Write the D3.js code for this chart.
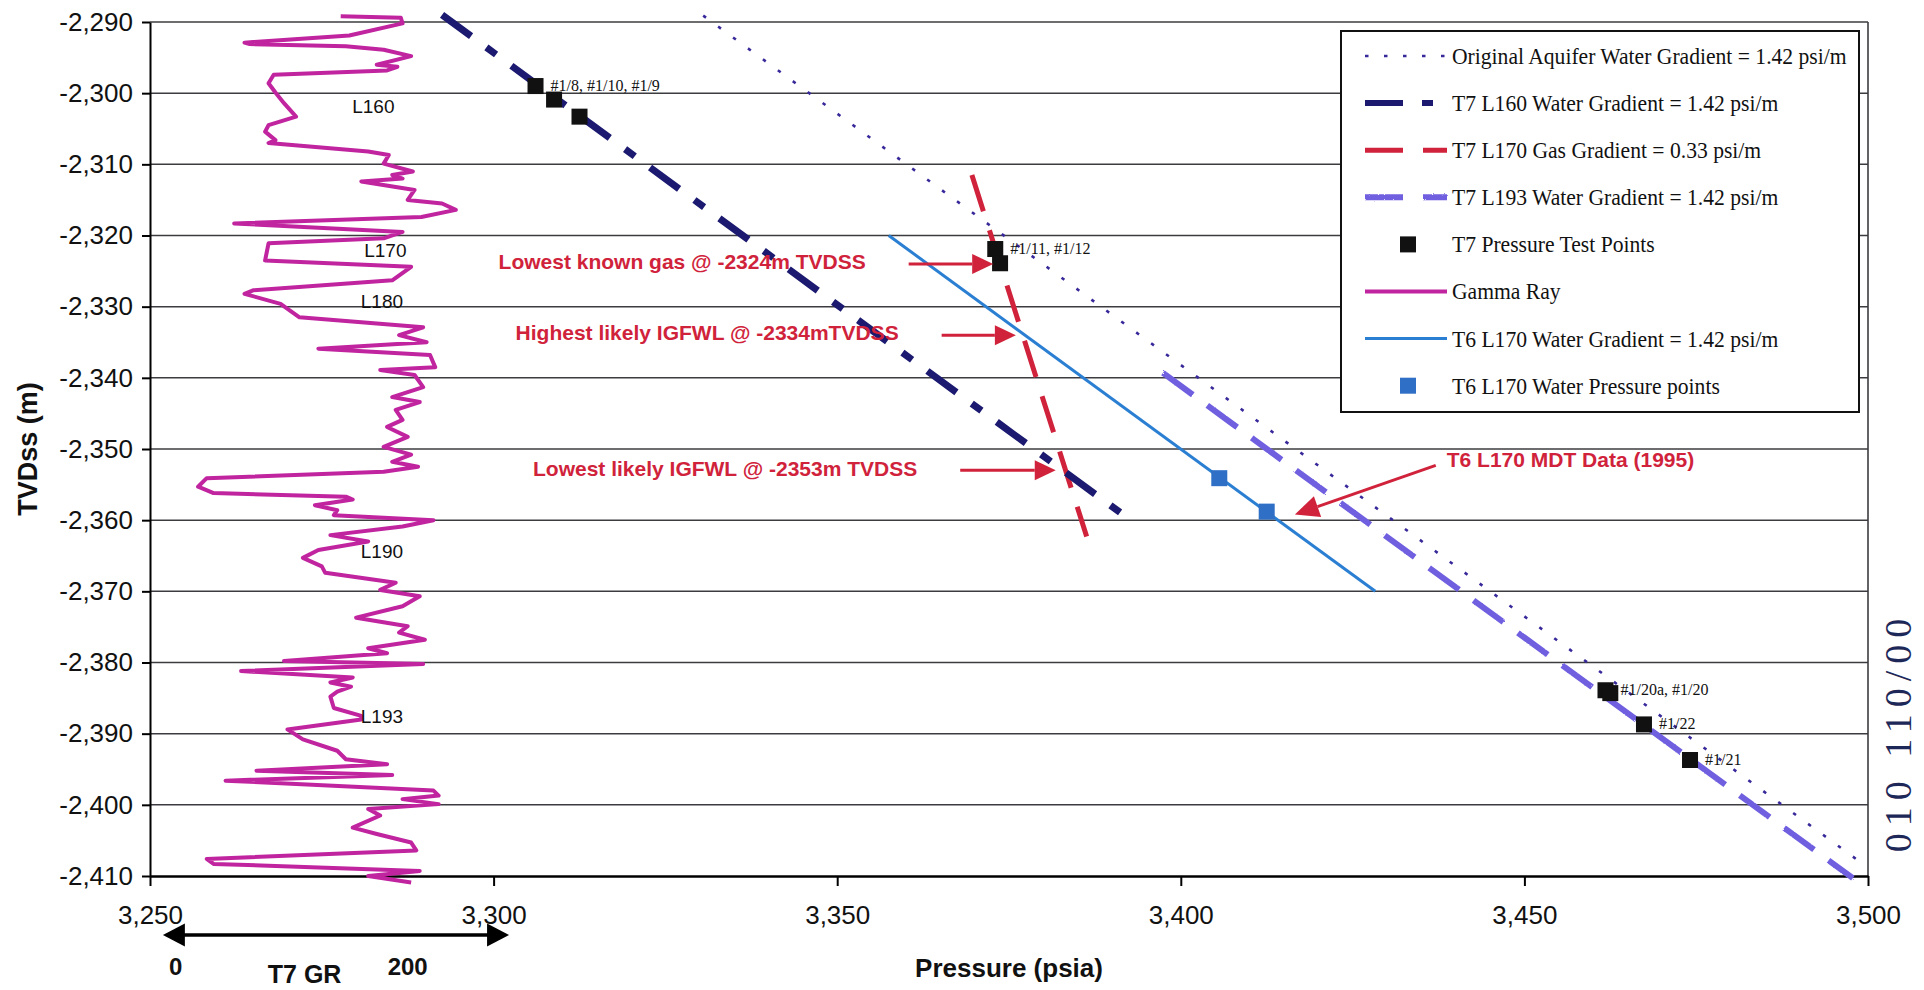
<!DOCTYPE html>
<html>
<head>
<meta charset="utf-8">
<script src="https://cdn.jsdelivr.net/npm/d3@7"></script>
<style>
  body { margin: 0; background: #fff; overflow: hidden; }
  svg { display: block; }
</style>
</head>
<body>
<svg id="chart" width="1924" height="990"></svg>
<script>
// ---- axis ticks ----
const depthTicks = [-2290, -2300, -2310, -2320, -2330, -2340, -2350, -2360, -2370, -2380, -2390, -2400, -2410];
const pressureTicks = [3250, 3300, 3350, 3400, 3450, 3500];

// ---- gradient lines: [pressure (psia), depth (m)] end points ----
const aquiferGradient = [[3330.5, -2289.1], [3499.1, -2408.2]];
const l160Gradient    = [[3292.5, -2289.0], [3392.0, -2359.5]];
const l170GasGradient = [[3369.6, -2311.5], [3386.3, -2362.3]];
const l193Gradient    = [[3397.4, -2339.3], [3497.8, -2410.3]];
const t6Gradient      = [[3357.5, -2320.0], [3428.3, -2370.0]];

// ---- T7 pressure test points ----
const t7Pressure = [3306.1, 3308.8, 3312.5, 3373.0, 3373.7, 3461.8, 3462.5, 3467.4, 3474.1];
const t7Depth    = [-2299.0, -2300.9, -2303.3, -2321.9, -2323.9, -2383.9, -2384.3, -2388.7, -2393.7];
const t7Labels   = ["#1/8, #1/10, #1/9", "", "", "#1/11, #1/12", "", "#1/20a, #1/20", "", "#1/22", "#1/21"];

// ---- T6 L170 MDT water pressure points ----
const t6Pressure = [3405.6, 3412.5];
const t6Depth    = [-2354.1, -2358.8];

// ---- T7 gamma ray log (API, 0-200 spans 3,250-3,300 on the pressure axis) ----
const grDepth = [
  -2289.2, -2289.4, -2290.2, -2291.9, -2292.9, -2293.1, -2293.4, -2293.9, -2294.8, -2296.0,
  -2296.3, -2296.8, -2297.4, -2298.6, -2299.9, -2301.4, -2303.3, -2304.5, -2305.4, -2306.6,
  -2307.0, -2308.2, -2308.7, -2309.9, -2311.0, -2311.5, -2312.0, -2312.4, -2313.6, -2315.0,
  -2315.5, -2316.4, -2317.4, -2318.3, -2319.5, -2320.4, -2321.1, -2323.5, -2324.4, -2326.3,
  -2327.7, -2328.2, -2329.6, -2331.5, -2332.9, -2334.0, -2335.0, -2335.9, -2336.8, -2338.5,
  -2338.9, -2339.6, -2341.3, -2342.7, -2343.4, -2344.5, -2345.9, -2346.9, -2348.3, -2349.7,
  -2350.8, -2351.8, -2352.5, -2353.2, -2354.1, -2355.3, -2356.2, -2356.7, -2357.1, -2357.9,
  -2358.6, -2359.3, -2360.0, -2360.9, -2362.1, -2363.0, -2364.2, -2365.3, -2366.5, -2367.4,
  -2368.8, -2369.8, -2370.7, -2372.1, -2373.7, -2374.9, -2375.8, -2376.8, -2378.0, -2378.7,
  -2379.8, -2380.2, -2381.2, -2382.1, -2382.8, -2383.4, -2384.1, -2384.8, -2386.4, -2387.5,
  -2388.0, -2389.4, -2390.8, -2392.4, -2393.6, -2394.3, -2395.2, -2395.8, -2396.6, -2398.0,
  -2398.7, -2399.2, -2399.9, -2400.6, -2401.5, -2403.2, -2404.1, -2405.3, -2406.4, -2407.6,
  -2408.3, -2409.3, -2410.0, -2410.9
];
const grValue = [
  111, 146, 147, 116, 55, 58, 114, 136, 152, 132,
  144, 138, 72, 69, 73, 78, 85, 69, 67, 73,
  69, 127, 139, 136, 153, 141, 147, 123, 154, 150,
  170, 178, 158, 49, 147, 136, 69, 67, 152, 141,
  60, 55, 76, 87, 159, 145, 161, 98, 163, 166,
  134, 154, 159, 141, 157, 143, 147, 138, 150, 136,
  152, 141, 156, 136, 33, 28, 37, 114, 118, 96,
  109, 107, 165, 147, 105, 127, 98, 89, 100, 102,
  143, 134, 157, 147, 120, 150, 145, 160, 127, 138,
  78, 159, 53, 118, 105, 117, 109, 105, 107, 123,
  123, 80, 89, 109, 114, 138, 62, 141, 44, 165,
  168, 147, 168, 127, 134, 118, 132, 152, 155, 33,
  37, 157, 127, 152
];

// ---- zone tops picked on the gamma ray ----
const zoneNames = ["L160", "L170", "L180", "L190", "L193"];
const zoneDepth = [-2301.8, -2322.1, -2329.2, -2364.4, -2387.6];
const zoneGR    = [130, 137, 135, 135, 135];

// ---- annotations (depth stated in the text, arrow from/to in psia) ----
const noteText  = ["Lowest known gas @ -2324m TVDSS", "Highest likely IGFWL @ -2334mTVDSS", "Lowest likely IGFWL @ -2353m TVDSS"];
const noteDepth = [-2324, -2334, -2353];
const noteFrom  = [3360.4, 3365.2, 3367.9];
const noteTo    = [3372.7, 3376.0, 3381.8];
const mdtNote   = "T6 L170 MDT Data (1995)";
const mdtArrow  = [[3437.1, -2352.3], [3416.6, -2359.2]];

// ---- legend entries ----
const legendLabels = [
  "Original Aquifer Water Gradient = 1.42 psi/m",
  "T7 L160 Water Gradient = 1.42 psi/m",
  "T7 L170 Gas Gradient = 0.33 psi/m",
  "T7 L193 Water Gradient = 1.42 psi/m",
  "T7 Pressure Test Points",
  "Gamma Ray",
  "T6 L170 Water Gradient = 1.42 psi/m",
  "T6 L170 Water Pressure points"
];
const legendKinds = ["aquifer", "l160", "gas", "l193", "t7pt", "gr", "t6", "t6pt"];

// page reference printed along the right margin
const marginRef = "010 110/00";

// ---- styling ----
const C = {
  grid: "#3c3c40",
  navy: "#1b1a70",
  red: "#d0233b",
  purple: "#6f60e0",
  dots: "#37299a",
  blue: "#2b7fd2",
  blueSq: "#2f70c6",
  gamma: "#c0249f",
  ink: "#111"
};
const lineStyles = {
  aquifer: { stroke: C.dots, width: 2.6, dash: "3.5,15" },
  l160:    { stroke: C.navy, width: 7, dash: "36,19,12,19" },
  gas:     { stroke: C.red, width: 5, dash: "38,20" },
  l193:    { stroke: C.purple, width: 6, dash: "37,18" },
  t6:      { stroke: C.blue, width: 3, dash: null },
  gr:      { stroke: C.gamma, width: 4, dash: null }
};

const sansFont = "'Liberation Sans', Arial, Helvetica, sans-serif";
const serifFont = "'Liberation Serif', 'Times New Roman', serif";

const svg = d3.select("#chart");
const plot = { left: 150, right: 1868, top: 22, bottom: 876 };

const x = d3.scaleLinear().domain([3250, 3500]).range([plot.left, plot.right]);
const y = d3.scaleLinear().domain([-2290, -2410]).range([plot.top, plot.bottom]);
const gr = d3.scaleLinear().domain([0, 200]).range([x(3250), x(3300)]);

const fmt = d3.formatLocale({ decimal: ".", thousands: ",", grouping: [3], currency: ["$", ""], minus: "-" }).format(",");

// speckled texture for the L193 gradient stroke
const defs = svg.append("defs");
const fuzz = defs.append("filter").attr("id", "fuzz").attr("filterUnits", "userSpaceOnUse")
  .attr("x", 0).attr("y", 0).attr("width", 1924).attr("height", 990);
fuzz.append("feTurbulence").attr("type", "fractalNoise").attr("baseFrequency", 0.9).attr("numOctaves", 1).attr("result", "noise");
fuzz.append("feDisplacementMap").attr("in", "SourceGraphic").attr("in2", "noise").attr("scale", 2.5);

// horizontal grid lines
svg.append("g").selectAll("line").data(depthTicks.slice(0, -1)).join("line")
  .attr("x1", plot.left).attr("x2", plot.right)
  .attr("y1", d => y(d)).attr("y2", d => y(d))
  .attr("stroke", C.grid).attr("stroke-width", 1.5);

// right frame
svg.append("line").attr("x1", plot.right).attr("x2", plot.right)
  .attr("y1", plot.top).attr("y2", plot.bottom)
  .attr("stroke", C.grid).attr("stroke-width", 1.6);

// y axis
const yAxis = svg.append("g").attr("transform", `translate(${plot.left},0)`)
  .call(d3.axisLeft(y).tickValues(depthTicks).tickFormat(fmt).tickSize(8).tickSizeOuter(0).tickPadding(9));
yAxis.select(".domain").attr("stroke", "#000").attr("stroke-width", 2);
yAxis.selectAll(".tick line").attr("stroke", "#000").attr("stroke-width", 2);
yAxis.selectAll("text").attr("font-family", sansFont).attr("font-size", 26).attr("fill", C.ink);

// x axis
const xAxis = svg.append("g").attr("transform", `translate(0,${plot.bottom})`)
  .call(d3.axisBottom(x).tickValues(pressureTicks).tickFormat(fmt).tickSize(10).tickSizeOuter(0).tickPadding(20));
xAxis.select(".domain").attr("stroke", "#000").attr("stroke-width", 2.6);
xAxis.selectAll(".tick line").attr("stroke", "#000").attr("stroke-width", 2);
xAxis.selectAll("text").attr("font-family", sansFont).attr("font-size", 26).attr("fill", C.ink);

// axis titles, centred on the plot area
svg.append("text").attr("transform", `translate(37,${(plot.top + plot.bottom) / 2}) rotate(-90)`)
  .attr("text-anchor", "middle").attr("font-family", sansFont).attr("font-weight", "bold")
  .attr("font-size", 27).attr("fill", C.ink).text("TVDss (m)");
svg.append("text").attr("x", (plot.left + plot.right) / 2).attr("y", 977)
  .attr("text-anchor", "middle").attr("font-family", sansFont).attr("font-weight", "bold")
  .attr("font-size", 26).attr("fill", C.ink).text("Pressure (psia)");

// margin reference along the right edge of the page
svg.append("text").attr("transform", "translate(1911,732) rotate(-90)")
  .attr("text-anchor", "middle").attr("font-family", serifFont).attr("font-size", 38)
  .attr("letter-spacing", 7).attr("fill", "#1d2858").text(marginRef);

// gamma ray scale bar below the axis
function arrowHead(g, x1, y1, x2, y2, len, half, color) {
  const a = Math.atan2(y2 - y1, x2 - x1);
  const bx = x2 - len * Math.cos(a), by = y2 - len * Math.sin(a);
  g.append("polygon")
    .attr("points", [[x2, y2], [bx + half * Math.sin(a), by - half * Math.cos(a)], [bx - half * Math.sin(a), by + half * Math.cos(a)]].map(p => p.join(",")).join(" "))
    .attr("fill", color);
  return [bx, by];
}
const grBar = svg.append("g");
const grBarY = 935;
grBar.append("line").attr("x1", gr(12)).attr("x2", gr(198)).attr("y1", grBarY).attr("y2", grBarY)
  .attr("stroke", "#000").attr("stroke-width", 3.5);
arrowHead(grBar, gr(100), grBarY, gr(7.5), grBarY, 22, 11.5, "#000");
arrowHead(grBar, gr(100), grBarY, gr(209), grBarY, 22, 11.5, "#000");
grBar.append("text").attr("x", gr(15)).attr("y", 975).attr("text-anchor", "middle")
  .attr("font-family", sansFont).attr("font-weight", "bold").attr("font-size", 24).attr("fill", C.ink).text("0");
grBar.append("text").attr("x", gr(90)).attr("y", 983).attr("text-anchor", "middle")
  .attr("font-family", sansFont).attr("font-weight", "bold").attr("font-size", 25).attr("fill", C.ink).text("T7 GR");
grBar.append("text").attr("x", gr(150)).attr("y", 975).attr("text-anchor", "middle")
  .attr("font-family", sansFont).attr("font-weight", "bold").attr("font-size", 24).attr("fill", C.ink).text("200");

// gamma ray curve
const grLine = d3.line().x(d => gr(d[1])).y(d => y(d[0])).curve(d3.curveLinear);
svg.append("path").datum(d3.zip(grDepth, grValue))
  .attr("d", grLine).attr("fill", "none")
  .attr("stroke", C.gamma).attr("stroke-width", lineStyles.gr.width).attr("stroke-linejoin", "round");

// zone labels
svg.append("g").selectAll("text").data(d3.zip(zoneNames, zoneDepth, zoneGR)).join("text")
  .attr("x", d => gr(d[2])).attr("y", d => y(d[1])).attr("dy", "0.35em")
  .attr("text-anchor", "middle").attr("font-family", sansFont).attr("font-size", 19).attr("fill", C.ink)
  .text(d => d[0]);

// gradient lines
const pLine = d3.line().x(d => x(d[0])).y(d => y(d[1]));
function drawGradient(data, style) {
  const p = svg.append("path").datum(data).attr("d", pLine).attr("fill", "none")
    .attr("stroke", style.stroke).attr("stroke-width", style.width);
  if (style.dash) p.attr("stroke-dasharray", style.dash);
  return p;
}
drawGradient(aquiferGradient, lineStyles.aquifer);
drawGradient(t6Gradient, lineStyles.t6);
drawGradient(l193Gradient, lineStyles.l193).attr("filter", "url(#fuzz)");
drawGradient(l170GasGradient, lineStyles.gas);
drawGradient(l160Gradient, lineStyles.l160);

// pressure points
const sq = 16;
svg.append("g").selectAll("rect").data(d3.zip(t6Pressure, t6Depth)).join("rect")
  .attr("x", d => x(d[0]) - sq / 2).attr("y", d => y(d[1]) - sq / 2)
  .attr("width", sq).attr("height", sq).attr("fill", C.blueSq);
svg.append("g").selectAll("rect").data(d3.zip(t7Pressure, t7Depth)).join("rect")
  .attr("x", d => x(d[0]) - sq / 2).attr("y", d => y(d[1]) - sq / 2)
  .attr("width", sq).attr("height", sq).attr("fill", "#111");
svg.append("g").selectAll("text").data(d3.zip(t7Pressure, t7Depth, t7Labels).filter(d => d[2])).join("text")
  .attr("x", d => x(d[0]) + 15).attr("y", d => y(d[1])).attr("dy", "0.3em")
  .attr("font-family", serifFont).attr("font-size", 16).attr("fill", C.ink)
  .text(d => d[2]);

// annotations
const notes = svg.append("g");
d3.zip(noteText, noteDepth, noteFrom, noteTo).forEach(([t, d, f, to]) => {
  const yy = y(d);
  const [bx] = arrowHead(notes, x(f), yy, x(to), yy, 21, 10, C.red);
  notes.append("line").attr("x1", x(f)).attr("x2", bx).attr("y1", yy).attr("y2", yy)
    .attr("stroke", C.red).attr("stroke-width", 3);
  notes.append("text").attr("x", x(f) - 43).attr("y", yy - 2).attr("dy", "0.35em")
    .attr("text-anchor", "end").attr("font-family", sansFont).attr("font-weight", "bold")
    .attr("font-size", 21).attr("fill", C.red).text(t);
});
{
  const [a, b] = mdtArrow;
  const [bx, by] = arrowHead(notes, x(a[0]), y(a[1]), x(b[0]), y(b[1]), 24, 11, C.red);
  notes.append("line").attr("x1", x(a[0])).attr("y1", y(a[1])).attr("x2", bx).attr("y2", by)
    .attr("stroke", C.red).attr("stroke-width", 3);
  notes.append("text").attr("x", x(a[0]) + 11).attr("y", y(a[1]) - 6).attr("dy", "0.35em")
    .attr("font-family", sansFont).attr("font-weight", "bold")
    .attr("font-size", 21).attr("fill", C.red).text(mdtNote);
}

// legend
const lg = { x: 1341, y: 31, w: 518, h: 381, row0: 56, rowStep: 47.1, symX0: 1365, symX1: 1447, textX: 1452 };
const legend = svg.append("g");
legend.append("rect").attr("x", lg.x).attr("y", lg.y).attr("width", lg.w).attr("height", lg.h)
  .attr("fill", "#fff").attr("stroke", "#111").attr("stroke-width", 2);
legendKinds.forEach((k, i) => {
  const yy = lg.row0 + i * lg.rowStep;
  if (k === "t7pt" || k === "t6pt") {
    legend.append("rect").attr("x", 1408 - 8).attr("y", yy - 8).attr("width", 16).attr("height", 16)
      .attr("fill", k === "t7pt" ? "#111" : C.blueSq);
  } else {
    const s = lineStyles[k];
    const l = legend.append("line").attr("x1", lg.symX0).attr("x2", lg.symX1).attr("y1", yy).attr("y2", yy)
      .attr("stroke", s.stroke).attr("stroke-width", k === "l160" ? 6 : s.width);
    if (k === "aquifer") l.attr("stroke-dasharray", "3.5,15.5");
    if (k === "l160") l.attr("stroke-dasharray", "38,19,11,100");
    if (k === "gas" || k === "l193") l.attr("stroke-dasharray", "38,20");
    if (k === "l193") l.attr("filter", "url(#fuzz)");
  }
  const t = legend.append("text").attr("x", lg.textX).attr("y", yy).attr("dy", "0.33em")
    .attr("font-family", serifFont).attr("font-size", 24).attr("fill", C.ink).text(legendLabels[i]);
  const len = t.node().getComputedTextLength();
  t.attr("textLength", len * 0.9).attr("lengthAdjust", "spacingAndGlyphs");
});
</script>
</body>
</html>
